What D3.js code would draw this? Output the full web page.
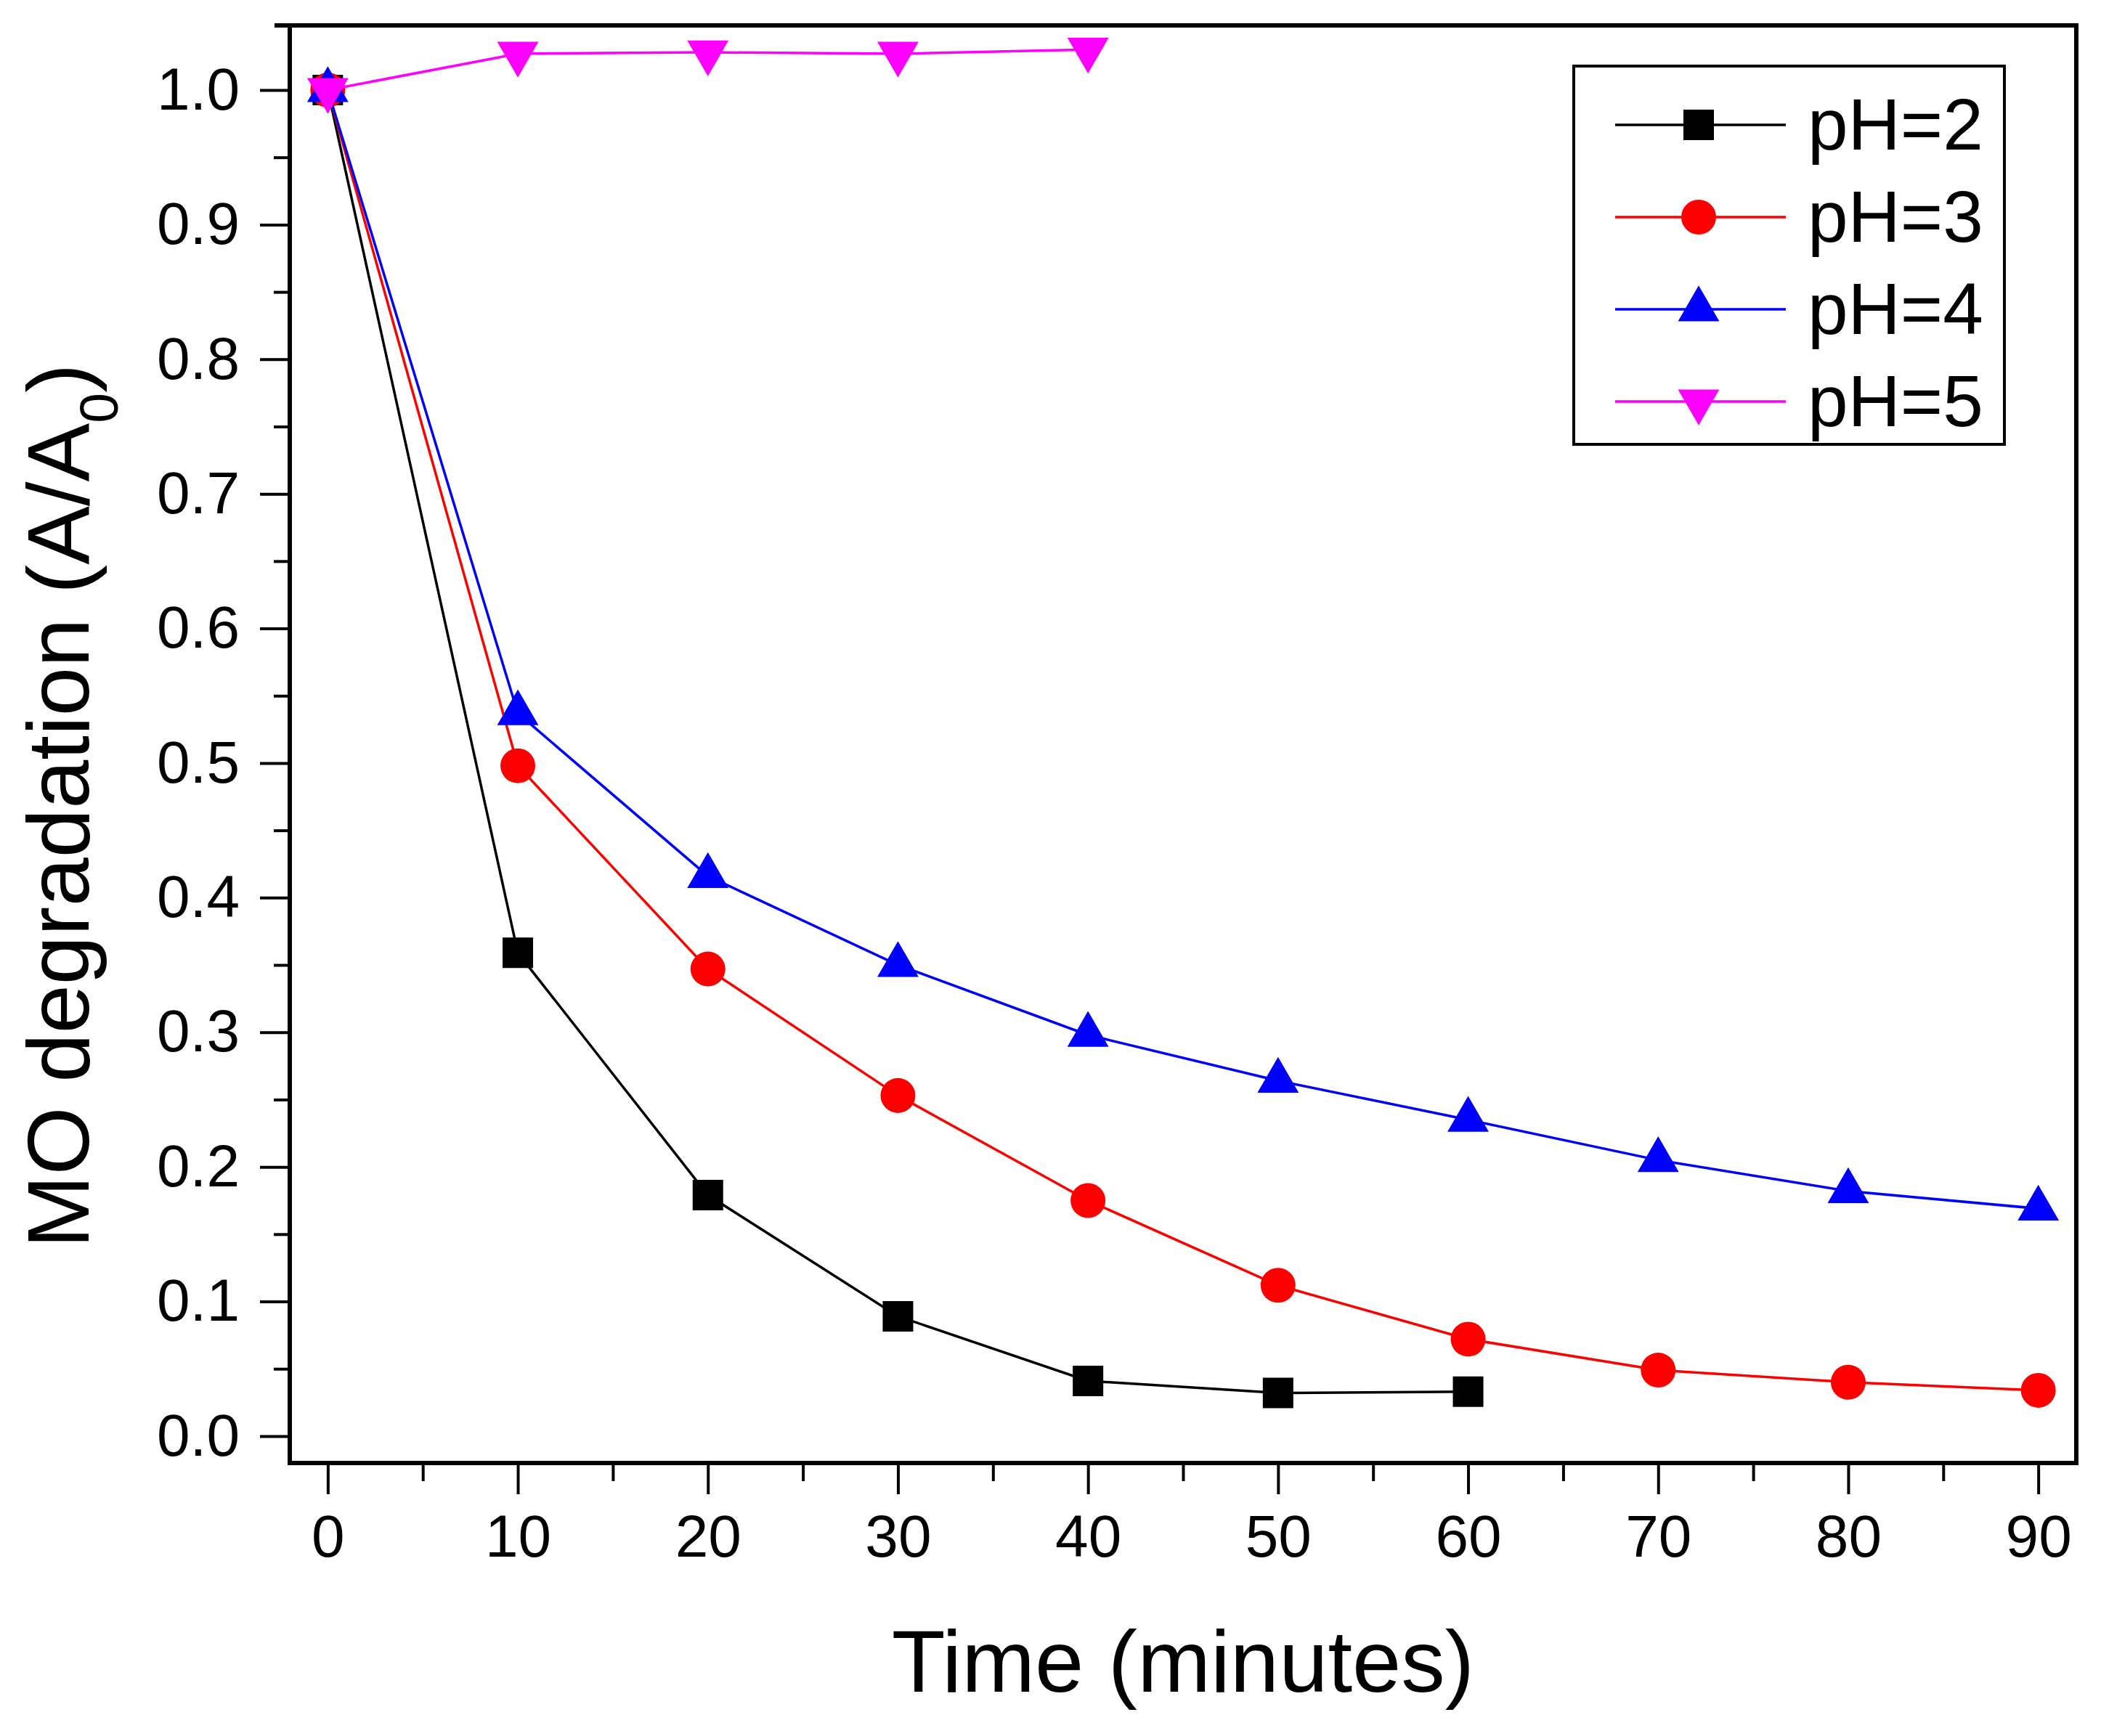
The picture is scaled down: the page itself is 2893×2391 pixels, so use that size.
<!DOCTYPE html>
<html>
<head>
<meta charset="utf-8">
<script src="https://cdn.jsdelivr.net/npm/d3@7"></script>
<style>
    body { margin: 0; background: #fff; }
    svg { display: block; font-family: "Liberation Sans", Arial, sans-serif; }
    .tick text { fill: #000; }
</style>
</head>
<body>
<div id="chart"></div>
<script>
// MO degradation vs time at different pH
const times = [0, 10, 20, 30, 40, 50, 60, 70, 80, 90];
const ph2 = [1.0, 0.359, 0.179, 0.089, 0.041, 0.032, 0.033];
const ph3 = [1.0, 0.498, 0.347, 0.253, 0.175, 0.112, 0.072, 0.049, 0.040, 0.034];
const ph4 = [1.0, 0.537, 0.416, 0.350, 0.298, 0.264, 0.235, 0.205, 0.182, 0.169];
const ph5 = [1.0, 1.027, 1.028, 1.027, 1.030];
const seriesNames = ['pH=2', 'pH=3', 'pH=4', 'pH=5'];
const xTicks = [0, 10, 20, 30, 40, 50, 60, 70, 80, 90];
const xMinorTicks = [5, 15, 25, 35, 45, 55, 65, 75, 85];
const yTicks = [0.0, 0.1, 0.2, 0.3, 0.4, 0.5, 0.6, 0.7, 0.8, 0.9, 1.0];
const yMinorTicks = [0.05, 0.15, 0.25, 0.35, 0.45, 0.55, 0.65, 0.75, 0.85, 0.95];

const W = 2893, H = 2391;
const plot = { left: 399, right: 2859, top: 35, bottom: 2015 };

const svg = d3.select('#chart').append('svg')
    .attr('width', W)
    .attr('height', H);

svg.append('rect').attr('width', W).attr('height', H).attr('fill', '#fff');

const x = d3.scaleLinear().domain([-2, 92]).range([plot.left, plot.right]);
const y = d3.scaleLinear().domain([-0.02, 1.048]).range([plot.bottom, plot.top]);

// ticks
function styleAxis(g) {
    g.select('.domain').remove();
    g.selectAll('.tick line').attr('stroke', '#000').attr('stroke-width', 4);
}

svg.append('g')
    .attr('transform', `translate(${plot.left},0)`)
    .call(d3.axisLeft(y).tickValues(yTicks).tickSize(41).tickPadding(28).tickFormat(d3.format('.1f')))
    .call(styleAxis)
    .selectAll('text').attr('font-size', 82).attr('font-family', '"Liberation Sans", Arial, sans-serif');

svg.append('g')
    .attr('transform', `translate(${plot.left},0)`)
    .call(d3.axisLeft(y).tickValues(yMinorTicks).tickSize(22).tickFormat(''))
    .call(styleAxis);

svg.append('g')
    .attr('transform', `translate(0,${plot.bottom})`)
    .call(d3.axisBottom(x).tickValues(xTicks).tickSize(43).tickPadding(28).tickFormat(d3.format('d')))
    .call(styleAxis)
    .selectAll('text').attr('font-size', 82).attr('font-family', '"Liberation Sans", Arial, sans-serif');

svg.append('g')
    .attr('transform', `translate(0,${plot.bottom})`)
    .call(d3.axisBottom(x).tickValues(xMinorTicks).tickSize(25).tickFormat(''))
    .call(styleAxis);

// frame
const frame = svg.append('g').attr('stroke', '#000').attr('stroke-width', 6);
frame.append('line').attr('x1', plot.left - 21).attr('x2', plot.right + 3).attr('y1', plot.top).attr('y2', plot.top);
frame.append('line').attr('x1', plot.left).attr('x2', plot.left).attr('y1', plot.top).attr('y2', plot.bottom + 3);
frame.append('line').attr('x1', plot.right).attr('x2', plot.right).attr('y1', plot.top).attr('y2', plot.bottom + 3);
frame.append('line').attr('x1', plot.left - 3).attr('x2', plot.right + 3).attr('y1', plot.bottom).attr('y2', plot.bottom);

// series
const series = [
    { name: seriesNames[0], values: ph2, color: '#000000', symbol: d3.symbolSquare, size: 1764, rotate: 0 },
    { name: seriesNames[1], values: ph3, color: '#ff0000', symbol: d3.symbolCircle, size: 1810, rotate: 0 },
    { name: seriesNames[2], values: ph4, color: '#0000ff', symbol: d3.symbolTriangle, size: 1400, rotate: 0 },
    { name: seriesNames[3], values: ph5, color: '#ff00ff', symbol: d3.symbolTriangle, size: 1400, rotate: 180 }
];

const line = d3.line()
    .x((d, i) => x(times[i]))
    .y(d => y(d));

series.forEach(s => {
    const g = svg.append('g');
    g.append('path')
        .datum(s.values)
        .attr('fill', 'none')
        .attr('stroke', s.color)
        .attr('stroke-width', 3.5)
        .attr('d', line);

    g.selectAll('path.marker')
        .data(s.values)
        .enter()
        .append('path')
        .attr('class', 'marker')
        .attr('fill', s.color)
        .attr('d', d3.symbol().type(s.symbol).size(s.size))
        .attr('transform', (d, i) => `translate(${x(times[i])},${y(d)}) rotate(${s.rotate})`);
});

// legend
const legend = svg.append('g');
legend.append('rect')
    .attr('x', 2167).attr('y', 91)
    .attr('width', 593).attr('height', 521)
    .attr('fill', '#fff')
    .attr('stroke', '#000')
    .attr('stroke-width', 4);

series.forEach((s, i) => {
    const ly = 172 + i * 127;
    legend.append('line')
        .attr('x1', 2224).attr('x2', 2459)
        .attr('y1', ly).attr('y2', ly)
        .attr('stroke', s.color)
        .attr('stroke-width', 3.5);
    legend.append('path')
        .attr('fill', s.color)
        .attr('d', d3.symbol().type(s.symbol).size(s.size))
        .attr('transform', `translate(2339,${ly}) rotate(${s.rotate})`);
    legend.append('text')
        .attr('x', 2489).attr('y', ly + 34)
        .attr('font-size', 100)
        .attr('fill', '#000')
        .text(s.name);
});

// axis titles
svg.append('text')
    .attr('x', (plot.left + plot.right) / 2)
    .attr('y', 2330)
    .attr('text-anchor', 'middle')
    .attr('font-size', 121)
    .attr('fill', '#000')
    .text('Time (minutes)');

const yTitle = svg.append('text')
    .attr('transform', 'translate(122,1110) rotate(-90)')
    .attr('text-anchor', 'middle')
    .attr('font-size', 121)
    .attr('fill', '#000');
yTitle.append('tspan').text('MO degradation (A/A');
yTitle.append('tspan').attr('font-size', 75).attr('dy', 40).text('0');
yTitle.append('tspan').attr('dy', -40).text(')');
</script>
</body>
</html>
